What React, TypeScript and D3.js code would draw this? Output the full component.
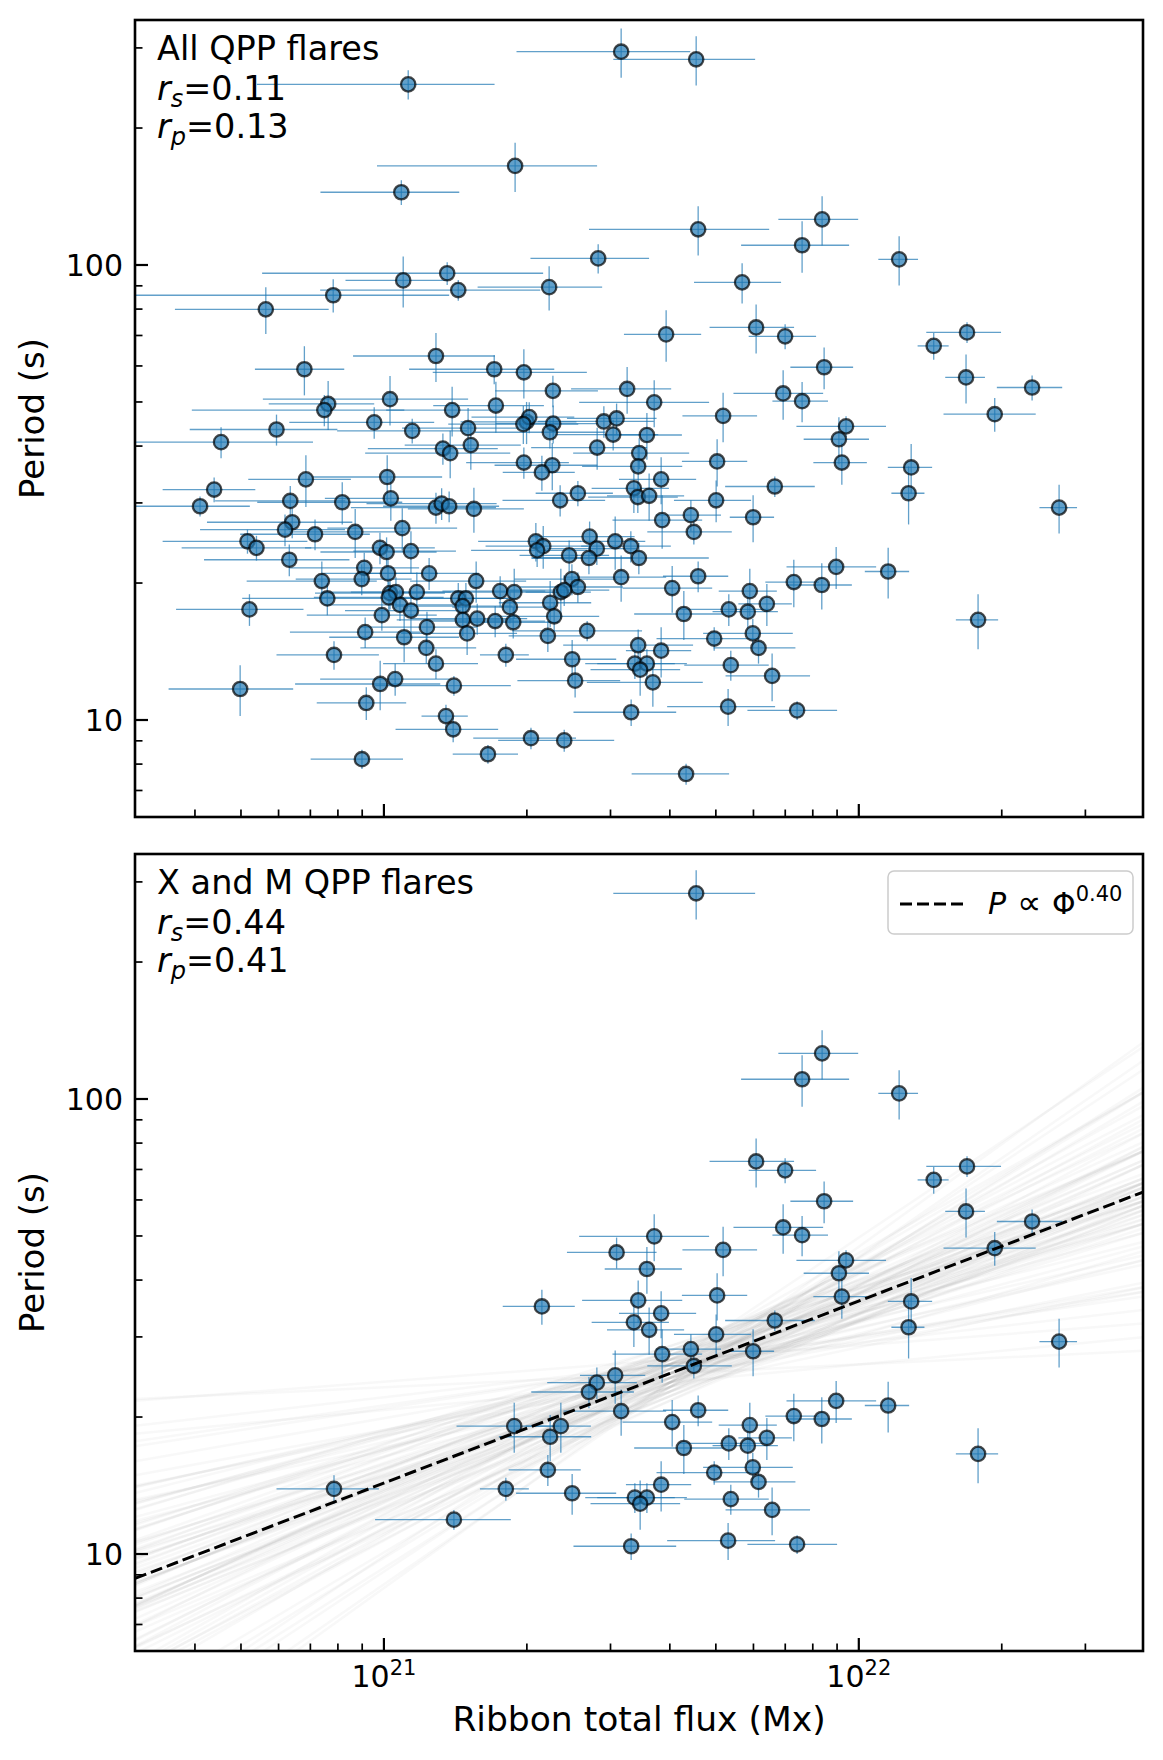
import { useEffect, useRef } from "react";
import * as d3 from "d3";

// ribbon total flux, in units of 1e21 Mx
const flux = [
  1.125, 1.889, 1.088, 1.098, 1.359, 1.434, 0.782, 0.564, 1.287, 0.680,
  1.707, 1.971, 0.763, 0.749, 1.030, 1.392, 1.721, 3.159, 4.545, 4.589,
  8.370, 7.596, 2.826, 2.228, 5.679, 3.929, 6.078, 6.996, 8.452, 2.269,
  3.252, 3.708, 5.179, 6.929, 7.596, 12.16, 16.90, 14.38, 16.82, 23.17,
  19.33, 0.954, 1.147, 1.504, 0.594, 1.997, 2.023, 1.966, 0.454, 1.524,
  1.331, 1.379, 1.971, 2.272, 2.236, 2.905, 3.090, 3.039, 3.579, 2.812,
  3.448, 2.262, 2.151, 3.431, 5.031, 9.210, 3.835, 6.654, 2.561, 2.350,
  3.360, 3.425, 3.618, 5.007, 4.430, 5.990, 3.854, 4.494, 2.089, 2.165,
  2.102, 2.455, 2.711, 2.808, 2.702, 3.069, 3.311, 3.442, 0.685, 1.016,
  0.439, 0.410, 0.635, 0.817, 1.034, 1.287, 1.323, 1.372, 1.547, 0.641,
  0.619, 0.716, 0.870, 1.093, 0.516, 0.539, 0.981, 1.013, 1.140, 0.632,
  0.909, 0.898, 1.020, 1.245, 0.740, 1.564, 0.760, 1.030, 1.060, 1.024,
  1.173, 1.081, 1.140, 1.434, 1.488, 1.465, 1.757, 1.881, 1.842, 0.990,
  0.521, 1.466, 1.572, 1.715, 1.872, 0.913, 1.232, 1.497, 1.103, 1.228,
  0.785, 1.806, 1.287, 0.498, 0.982, 1.056, 1.404, 0.918, 1.351, 1.399,
  2.040, 1.656, 0.899, 9.400, 9.080, 2.488, 2.561, 2.358, 2.397, 3.159,
  4.589, 4.046, 2.239, 2.283, 4.281, 5.895, 5.324, 5.838, 6.403, 7.297,
  8.357, 8.960, 11.53, 2.679, 2.214, 4.960, 5.981, 6.149, 3.431, 3.835,
  2.491, 3.376, 3.579, 3.464, 2.527, 3.684, 5.376, 6.568, 3.316, 5.306,
  7.414, 2.397, 4.328, 12.89, 12.73, 26.41, 17.83,
];

const fluxErr = [
  0.585, 0.922, 0.353, 0.268, 0.805, 0.700, 0.590, 0.201, 0.426, 0.145,
  0.577, 0.704, 0.191, 0.355, 0.474, 0.381, 0.451, 1.257, 1.504, 1.886,
  1.600, 1.945, 0.791, 0.653, 1.181, 0.727, 1.228, 1.133, 1.276, 0.554,
  0.774, 1.131, 0.927, 1.483, 1.018, 1.167, 3.030, 1.080, 1.615, 3.640,
  4.250, 0.322, 0.350, 0.412, 0.204, 0.547, 0.494, 0.600, 0.255, 0.418,
  0.406, 0.466, 0.481, 0.554, 0.682, 0.796, 0.661, 0.742, 0.662, 0.770,
  0.945, 0.552, 0.372, 0.817, 0.790, 1.188, 0.709, 1.424, 0.474, 0.573,
  0.622, 0.733, 0.669, 0.926, 0.696, 0.641, 0.825, 0.908, 0.510, 0.528,
  0.576, 0.525, 0.661, 0.601, 0.659, 0.482, 0.709, 1.390, 0.167, 0.310,
  0.097, 0.112, 0.194, 0.276, 0.283, 0.435, 0.404, 0.376, 0.424, 0.217,
  0.209, 0.218, 0.238, 0.333, 0.174, 0.164, 0.299, 0.278, 0.278, 0.214,
  0.277, 0.246, 0.279, 0.341, 0.226, 0.429, 0.257, 0.314, 0.323, 0.312,
  0.321, 0.330, 0.312, 0.393, 0.408, 0.401, 0.429, 0.459, 0.449, 0.302,
  0.156, 0.402, 0.431, 0.470, 0.457, 0.279, 0.338, 0.410, 0.336, 0.336,
  0.191, 0.213, 0.291, 0.146, 0.332, 0.322, 0.446, 0.196, 0.151, 0.341,
  0.498, 0.260, 0.198, 2.010, 1.426, 0.607, 0.625, 0.370, 0.585, 0.771,
  0.720, 0.866, 0.493, 0.557, 0.916, 0.825, 1.139, 0.917, 0.826, 0.941,
  1.312, 1.917, 1.234, 0.817, 0.383, 1.210, 1.280, 1.205, 1.046, 0.602,
  0.593, 0.722, 0.766, 0.741, 0.617, 1.009, 1.086, 1.327, 0.809, 1.358,
  1.587, 0.657, 1.004, 1.379, 1.018, 2.400, 1.820,
];

// QPP period, s
const period = [
  249.5, 165.1, 144.5, 92.5, 95.9, 88.1, 85.8, 79.9, 63.1, 59.0,
  59.0, 58.1, 49.5, 48.0, 50.7, 48.0, 49.1, 294.3, 283.2, 119.8,
  126.0, 110.5, 103.4, 89.4, 91.6, 70.4, 72.9, 69.7, 59.6, 52.9,
  53.4, 49.9, 46.6, 52.2, 50.2, 102.9, 71.1, 66.4, 56.6, 53.8,
  47.0, 45.1, 43.2, 43.8, 43.5, 45.2, 46.3, 44.7, 40.8, 40.2,
  39.5, 38.6, 36.8, 44.8, 42.9, 45.3, 46.0, 42.4, 42.3, 39.7,
  38.6, 36.3, 35.0, 36.1, 37.0, 36.8, 33.8, 32.6, 31.5, 30.4,
  32.3, 30.9, 31.1, 30.4, 28.2, 27.9, 27.5, 25.9, 24.7, 24.1,
  23.6, 23.0, 25.3, 23.8, 22.7, 24.7, 24.1, 22.7, 33.8, 34.2,
  32.1, 29.5, 30.3, 30.1, 30.7, 29.3, 29.9, 29.5, 29.1, 27.2,
  26.2, 25.6, 25.9, 26.4, 24.7, 23.9, 23.9, 23.4, 23.5, 22.5,
  21.6, 20.4, 21.0, 21.0, 20.2, 20.2, 18.5, 19.0, 19.1, 18.6,
  19.1, 17.9, 17.4, 18.5, 18.5, 17.8, 19.2, 19.1, 17.7, 17.0,
  17.5, 16.6, 16.7, 16.5, 16.4, 15.6, 16.0, 15.5, 15.2, 14.4,
  13.9, 13.9, 13.3, 11.7, 12.0, 12.3, 11.9, 10.9, 10.2, 9.54,
  9.12, 8.41, 8.20, 44.2, 41.4, 20.4, 19.6, 19.1, 19.3, 20.6,
  20.7, 19.5, 18.1, 16.9, 17.1, 19.2, 17.5, 17.3, 18.0, 20.1,
  19.8, 21.7, 21.2, 15.7, 15.3, 15.1, 15.5, 14.4, 14.6, 14.2,
  13.6, 13.3, 13.3, 12.9, 12.2, 12.1, 13.2, 12.5, 10.4, 10.7,
  10.5, 9.02, 7.61, 35.9, 31.5, 29.3, 16.6,
];

const periodErr = [
  18.3, 20.5, 9.0, 11.9, 5.5, 4.6, 7.2, 9.4, 7.8, 7.3,
  4.3, 7.2, 6.1, 3.8, 6.3, 6.0, 6.3, 36.5, 35.1, 14.9,
  15.6, 14.3, 7.6, 10.0, 9.3, 9.1, 9.0, 4.4, 6.3, 4.2,
  6.3, 5.9, 5.8, 6.5, 5.1, 12.8, 3.7, 4.5, 7.0, 3.4,
  4.0, 3.6, 2.7, 4.7, 3.4, 4.8, 3.6, 4.3, 3.2, 4.7,
  3.1, 4.6, 2.9, 4.3, 3.4, 3.6, 3.6, 3.3, 5.0, 4.2,
  3.0, 4.3, 3.1, 3.8, 4.4, 3.9, 4.0, 1.7, 2.0, 2.4,
  3.8, 2.4, 3.7, 3.2, 2.2, 3.3, 3.7, 1.6, 2.4, 2.6,
  1.9, 1.8, 2.0, 1.9, 1.8, 3.3, 1.9, 1.8, 4.4, 4.0,
  2.0, 1.5, 2.4, 3.2, 3.3, 2.3, 2.4, 2.3, 3.3, 2.1,
  2.1, 2.0, 3.2, 2.8, 1.5, 1.5, 1.9, 1.8, 2.5, 1.8,
  1.7, 1.6, 1.7, 1.7, 2.1, 2.1, 1.5, 1.5, 1.5, 1.5,
  2.0, 1.4, 1.9, 1.5, 1.5, 1.4, 1.5, 2.4, 1.4, 1.3,
  1.4, 1.3, 1.3, 1.3, 1.3, 1.2, 1.3, 1.6, 1.8, 1.1,
  1.0, 0.8, 1.0, 1.5, 1.5, 1.0, 0.6, 0.9, 0.6, 0.6,
  0.5, 0.4, 0.4, 2.3, 4.9, 1.6, 1.5, 2.4, 1.5, 2.4,
  1.6, 2.3, 2.1, 1.3, 2.1, 2.3, 1.4, 1.4, 1.9, 2.4,
  2.3, 2.3, 2.7, 0.8, 1.2, 0.9, 1.2, 1.1, 1.2, 1.8,
  1.4, 1.0, 1.0, 1.6, 1.0, 1.4, 1.0, 1.5, 0.7, 1.0,
  0.5, 0.5, 0.4, 4.5, 4.6, 3.6, 2.3,
];

// 1 = X or M class flare (shown again in the lower panel)
const xmClass = [
  0, 0, 0, 0, 0, 0, 0, 0, 0, 0,
  0, 0, 0, 0, 0, 0, 0, 0, 1, 0,
  1, 1, 0, 0, 0, 0, 1, 1, 1, 0,
  0, 1, 1, 1, 1, 1, 1, 1, 1, 1,
  1, 0, 0, 0, 0, 0, 0, 0, 0, 0,
  0, 0, 0, 0, 0, 0, 1, 0, 1, 0,
  0, 0, 1, 1, 1, 1, 1, 1, 0, 0,
  1, 0, 1, 1, 1, 1, 1, 1, 0, 0,
  0, 0, 0, 1, 1, 1, 0, 0, 0, 0,
  0, 0, 0, 0, 0, 0, 0, 0, 0, 0,
  0, 0, 0, 0, 0, 0, 0, 0, 0, 0,
  0, 0, 0, 0, 0, 0, 0, 0, 0, 0,
  0, 0, 0, 0, 0, 0, 0, 1, 0, 0,
  0, 0, 0, 0, 0, 0, 0, 0, 0, 0,
  1, 1, 0, 0, 0, 0, 1, 0, 0, 0,
  0, 0, 0, 1, 1, 0, 0, 1, 0, 1,
  1, 1, 1, 0, 1, 1, 1, 1, 1, 1,
  1, 1, 1, 0, 1, 1, 1, 1, 0, 1,
  1, 1, 1, 1, 0, 0, 1, 1, 1, 1,
  1, 0, 0, 1, 1, 1, 1,
];

const panelTitles = ["All QPP flares", "X and M QPP flares"];
const rSpearman = ["0.11", "0.44"];
const rPearson = ["0.13", "0.41"];

// power law fit of the X/M sample: P = fitNorm * (flux / 1e21 Mx)^fitIndex
const fitIndex = 0.4;
const fitNorm = 14.32;
const fitLabel = "0.40";

// bootstrap fits: index and shift (dex) at the pivot flux
const bootPivot = 4;
const bootIndex = [
  0.40, 0.36, 0.44, 0.33, 0.47, 0.38, 0.42, 0.30, 0.50, 0.35,
  0.45, 0.27, 0.53, 0.39, 0.41, 0.32, 0.48, 0.24, 0.56, 0.37,
  0.43, 0.34, 0.46, 0.21, 0.59, 0.40, 0.31, 0.49, 0.36, 0.44,
  0.18, 0.62, 0.38, 0.42, 0.28, 0.52, 0.35, 0.45, 0.15, 0.66,
  0.39, 0.41, 0.26, 0.54, 0.33, 0.47, 0.37, 0.43, 0.22, 0.58,
  0.40, 0.34, 0.46, 0.29, 0.51, 0.12, 0.69, 0.38, 0.42, 0.40,
  0.08, 0.72, 0.36, 0.44, 0.25, 0.55, 0.31, 0.49, 0.19, 0.61,
  0.05, 0.75, 0.38, 0.42, 0.34, 0.46, 0.28, 0.52, 0.23, 0.57,
  0.10, 0.70, 0.39, 0.41, 0.32, 0.48, 0.16, 0.64, 0.37, 0.43,
];
const bootShift = [
  0.00, 0.02, -0.02, 0.03, -0.01, -0.03, 0.01, 0.04, -0.04, 0.00,
  0.02, -0.02, 0.01, 0.05, -0.05, -0.01, 0.03, 0.02, -0.03, 0.00,
  -0.02, 0.04, 0.01, -0.01, 0.03, -0.04, 0.02, 0.00, -0.03, 0.05,
  0.01, -0.02, 0.02, -0.05, 0.00, 0.03, -0.01, 0.04, 0.02, -0.03,
  -0.02, 0.01, 0.03, -0.04, 0.00, 0.02, 0.05, -0.01, -0.03, 0.01,
  0.03, -0.02, 0.00, 0.04, -0.01, 0.02, -0.02, 0.00, 0.01, -0.03,
  0.03, -0.03, 0.06, -0.06, 0.00, 0.02, -0.04, 0.04, -0.01, 0.01,
  0.00, -0.02, 0.02, -0.02, 0.05, -0.05, 0.03, -0.03, 0.01, -0.01,
  -0.02, 0.02, 0.00, 0.00, 0.06, -0.06, 0.02, -0.02, 0.04, -0.04,
];

// ticks (flux in 1e21 Mx, period in s)
const xMajor = [1, 10];
const xMajorExp = ["21", "22"];
const xMinor = [0.4, 0.5, 0.6, 0.7, 0.8, 0.9, 2, 3, 4, 5, 6, 7, 8, 9, 20, 30];
const yMajor = [10, 100];
const yMajorLabels = ["10", "100"];
const yMinor = [7, 8, 9, 20, 30, 40, 50, 60, 70, 80, 90, 200, 300];

const W = 1163;
const H = 1760;
const left = 135;
const right = 1143;
const panels = [
  { top: 20, bottom: 817 },
  { top: 854, bottom: 1651 },
];
const font = "'DejaVu Sans', sans-serif";
const blue = "#1f77b4";

export default function App() {
  const ref = useRef<SVGSVGElement>(null);

  useEffect(() => {
    document.body.style.margin = "0";
    const svg = d3.select(ref.current);
    svg.selectAll("*").remove();

    const x = d3.scaleLog().domain([0.2991, 39.67]).range([left, right]);
    const defs = svg.append("defs");

    panels.forEach((p, i) => {
      const y = d3.scaleLog().domain([6.121, 345.5]).range([p.bottom, p.top]);
      const clipId = `clip-${i}`;
      defs
        .append("clipPath")
        .attr("id", clipId)
        .append("rect")
        .attr("x", left)
        .attr("y", p.top)
        .attr("width", right - left)
        .attr("height", p.bottom - p.top);

      const plot = svg.append("g").attr("clip-path", `url(#${clipId})`);
      const idx = d3.range(flux.length).filter((k) => i === 0 || xmClass[k] === 1);

      if (i === 1) {
        // fan of bootstrap fits
        const pivotP = fitNorm * Math.pow(bootPivot, fitIndex);
        const ends = x.domain();
        bootIndex.forEach((s, k) => {
          const shift = Math.pow(10, bootShift[k] ?? 0);
          const pts = ends.map((v) => [x(v), y(pivotP * shift * Math.pow(v / bootPivot, s))] as [number, number]);
          plot
            .append("path")
            .attr("d", d3.line()(pts))
            .attr("fill", "none")
            .attr("stroke", "#8c8c8c")
            .attr("stroke-opacity", 0.06)
            .attr("stroke-width", 2.5);
        });
      }

      // error bars
      plot
        .selectAll(".xerr")
        .data(idx)
        .join("line")
        .attr("x1", (k) => x(Math.max(flux[k] - fluxErr[k], 0.01)))
        .attr("x2", (k) => x(flux[k] + fluxErr[k]))
        .attr("y1", (k) => y(period[k]))
        .attr("y2", (k) => y(period[k]))
        .attr("stroke", blue)
        .attr("stroke-opacity", 0.7)
        .attr("stroke-width", 1.3);
      plot
        .selectAll(".yerr")
        .data(idx)
        .join("line")
        .attr("x1", (k) => x(flux[k]))
        .attr("x2", (k) => x(flux[k]))
        .attr("y1", (k) => y(period[k] - periodErr[k]))
        .attr("y2", (k) => y(period[k] + periodErr[k]))
        .attr("stroke", blue)
        .attr("stroke-opacity", 0.7)
        .attr("stroke-width", 1.3);

      // markers
      plot
        .selectAll(".pt")
        .data(idx)
        .join("circle")
        .attr("cx", (k) => x(flux[k]))
        .attr("cy", (k) => y(period[k]))
        .attr("r", 7.2)
        .attr("fill", blue)
        .attr("fill-opacity", 0.7)
        .attr("stroke", "#000")
        .attr("stroke-opacity", 0.7)
        .attr("stroke-width", 2.3);

      if (i === 1) {
        const ends = x.domain();
        const pts = ends.map((v) => [x(v), y(fitNorm * Math.pow(v, fitIndex))] as [number, number]);
        plot
          .append("path")
          .attr("d", d3.line()(pts))
          .attr("fill", "none")
          .attr("stroke", "#000")
          .attr("stroke-width", 3)
          .attr("stroke-dasharray", "12,5");
      }

      // ticks, pointing inward
      const ticks = svg.append("g").attr("stroke", "#000");
      xMajor.forEach((v) => {
        ticks.append("line").attr("x1", x(v)).attr("x2", x(v)).attr("y1", p.bottom).attr("y2", p.bottom - 13).attr("stroke-width", 2.2);
      });
      xMinor.forEach((v) => {
        ticks.append("line").attr("x1", x(v)).attr("x2", x(v)).attr("y1", p.bottom).attr("y2", p.bottom - 7.5).attr("stroke-width", 1.7);
      });
      yMajor.forEach((v) => {
        ticks.append("line").attr("x1", left).attr("x2", left + 13).attr("y1", y(v)).attr("y2", y(v)).attr("stroke-width", 2.2);
      });
      yMinor.forEach((v) => {
        ticks.append("line").attr("x1", left).attr("x2", left + 7.5).attr("y1", y(v)).attr("y2", y(v)).attr("stroke-width", 1.7);
      });

      svg
        .append("rect")
        .attr("x", left)
        .attr("y", p.top)
        .attr("width", right - left)
        .attr("height", p.bottom - p.top)
        .attr("fill", "none")
        .attr("stroke", "#000")
        .attr("stroke-width", 2.6);

      // y tick labels
      yMajor.forEach((v, k) => {
        svg
          .append("text")
          .attr("x", left - 12)
          .attr("y", y(v))
          .attr("dy", "0.36em")
          .attr("text-anchor", "end")
          .attr("font-family", font)
          .attr("font-size", 30)
          .text(yMajorLabels[k]);
      });

      svg
        .append("text")
        .attr("transform", `translate(44,${(p.top + p.bottom) / 2}) rotate(-90)`)
        .attr("text-anchor", "middle")
        .attr("font-family", font)
        .attr("font-size", 34)
        .text("Period (s)");

      // annotations
      const tx = 157;
      svg
        .append("text")
        .attr("x", tx)
        .attr("y", p.top + 40)
        .attr("font-family", font)
        .attr("font-size", 33.5)
        .text(panelTitles[i]);
      [
        ["s", rSpearman[i]],
        ["p", rPearson[i]],
      ].forEach(([sub, val], k) => {
        const t = svg
          .append("text")
          .attr("x", tx)
          .attr("y", p.top + 80 + k * 38)
          .attr("font-family", font)
          .attr("font-size", 33.5);
        t.append("tspan").attr("font-style", "italic").text("r");
        t.append("tspan").attr("font-style", "italic").attr("font-size", 24).attr("dy", 7).text(sub);
        t.append("tspan").attr("dy", -7).text("=" + val);
      });

      if (i === 1) {
        // x tick labels
        xMajor.forEach((v, k) => {
          const t = svg
            .append("text")
            .attr("x", x(v))
            .attr("y", p.bottom + 36)
            .attr("text-anchor", "middle")
            .attr("font-family", font)
            .attr("font-size", 30);
          t.append("tspan").text("10");
          t.append("tspan").attr("font-size", 21).attr("dy", -12).text(xMajorExp[k]);
        });
        svg
          .append("text")
          .attr("x", (left + right) / 2)
          .attr("y", p.bottom + 80)
          .attr("text-anchor", "middle")
          .attr("font-family", font)
          .attr("font-size", 34.5)
          .text("Ribbon total flux (Mx)");

        // legend
        const lg = svg.append("g").attr("transform", `translate(888,${p.top + 17})`);
        lg.append("rect")
          .attr("width", 245)
          .attr("height", 63)
          .attr("rx", 6)
          .attr("fill", "#fff")
          .attr("fill-opacity", 0.8)
          .attr("stroke", "#cccccc")
          .attr("stroke-width", 1.5);
        lg.append("line")
          .attr("x1", 12)
          .attr("x2", 80)
          .attr("y1", 33)
          .attr("y2", 33)
          .attr("stroke", "#000")
          .attr("stroke-width", 3)
          .attr("stroke-dasharray", "12,5");
        const lt = lg.append("text").attr("x", 100).attr("y", 43).attr("font-family", font).attr("font-size", 30);
        lt.append("tspan").attr("font-style", "italic").text("P");
        lt.append("tspan").attr("font-size", 34).text(" \u221D ");
        lt.append("tspan").text("\u03A6");
        lt.append("tspan").attr("font-size", 21).attr("dy", -13).text(fitLabel);
      }
    });
  }, []);

  return <svg ref={ref} width={W} height={H} style={{ display: "block", background: "#fff" }} />;
}
